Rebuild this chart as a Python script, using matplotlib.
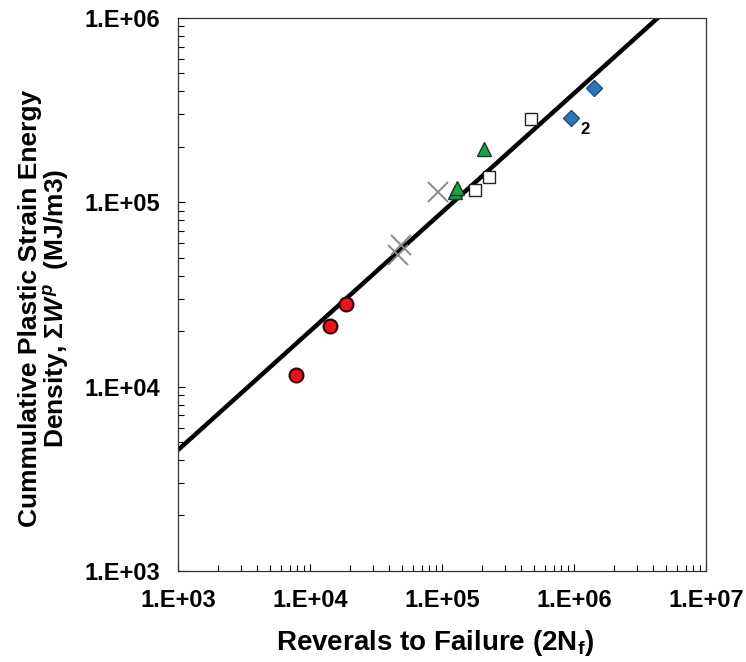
import matplotlib
matplotlib.use("Agg")
import matplotlib.pyplot as plt
import numpy as np

plt.rcParams['font.family'] = ['Liberation Sans', 'DejaVu Sans']
plt.rcParams['font.weight'] = 'bold'
plt.rcParams['mathtext.fontset'] = 'custom'
plt.rcParams['mathtext.rm'] = 'Liberation Sans:bold'
plt.rcParams['mathtext.it'] = 'Liberation Sans:italic:bold'
plt.rcParams['mathtext.bf'] = 'Liberation Sans:bold'

# data
circ_x = [7800, 14200, 18600]
circ_y = [11500, 21300, 28000]
cross_x = [93700, 48700, 46700]
cross_y = [114000, 59000, 51800]
tri_x = [126000, 129000, 209000]
tri_y = [114000, 119000, 194000]
sq_x = [178000, 228000, 472000]
sq_y = [116500, 137500, 284000]
dia_x = [945000, 1425000]
dia_y = [285000, 415000]

# power-law fit: W = fit_c * (2Nf/1e3)^fit_b
fit_c = 4530.0
fit_b = 0.645

fig = plt.figure(figsize=(7.46, 6.62), dpi=100)
ax = fig.add_axes([0.2386, 0.1375, 0.7078, 0.8353])

xl = np.logspace(3, 7, 50)
ax.plot(xl, fit_c * (xl / 1e3) ** fit_b, color='black', lw=3.2, zorder=2, solid_capstyle='butt')

ax.plot(circ_x, circ_y, 'o', ms=10, mfc='#e8141c', mec='#3a0000', mew=1.5, ls='none', zorder=3)
ax.plot(cross_x, cross_y, 'x', ms=14, mec='#8a8a8a', mew=1.4, ls='none', zorder=3)
ax.plot(tri_x, tri_y, '^', ms=10, mfc='#1f9e4f', mec='#0d4020', mew=1.0, ls='none', zorder=3)
ax.plot(sq_x, sq_y, 's', ms=9, mfc='white', mec='#222222', mew=1.0, ls='none', zorder=3)
ax.plot(dia_x, dia_y, 'D', ms=8, mfc='#2e75b6', mec='#1c4f80', mew=1.0, ls='none', zorder=3)

ax.annotate('2', (dia_x[0], dia_y[0]), xytext=(10, -8), textcoords='offset points',
            fontsize=12, fontweight='bold', ha='center', va='center')

ax.set_xscale('log')
ax.set_yscale('log')
ax.set_xlim(1e3, 1e7)
ax.set_ylim(1e3, 1e6)

ax.set_xticks([1e3, 1e4, 1e5, 1e6, 1e7])
ax.set_xticklabels(['1.E+03', '1.E+04', '1.E+05', '1.E+06', '1.E+07'])
ax.set_yticks([1e3, 1e4, 1e5, 1e6])
ax.set_yticklabels(['1.E+03', '1.E+04', '1.E+05', '1.E+06'])

ax.tick_params(which='both', direction='in', top=False, right=False, labelsize=17, pad=13, width=0.8)
ax.tick_params(which='major', length=5)
ax.tick_params(which='minor', length=4)
for s in ax.spines.values():
    s.set_linewidth(0.9)
    s.set_color('#333333')

ax.set_xlabel(r'Reverals to Failure (2N$_\mathbf{f}$)', fontsize=20, fontweight='bold')
ax.xaxis.set_label_coords(0.487, -0.103)
ax.set_ylabel('Cummulative Plastic Strain Energy\n' + r'Density, $\Sigma W^{p}$  (MJ/m3)',
              fontsize=19, fontweight='bold', linespacing=1.0, ha='center')
ax.yaxis.set_label_coords(-0.203, 0.475)

fig.savefig('out.png', dpi=100)
